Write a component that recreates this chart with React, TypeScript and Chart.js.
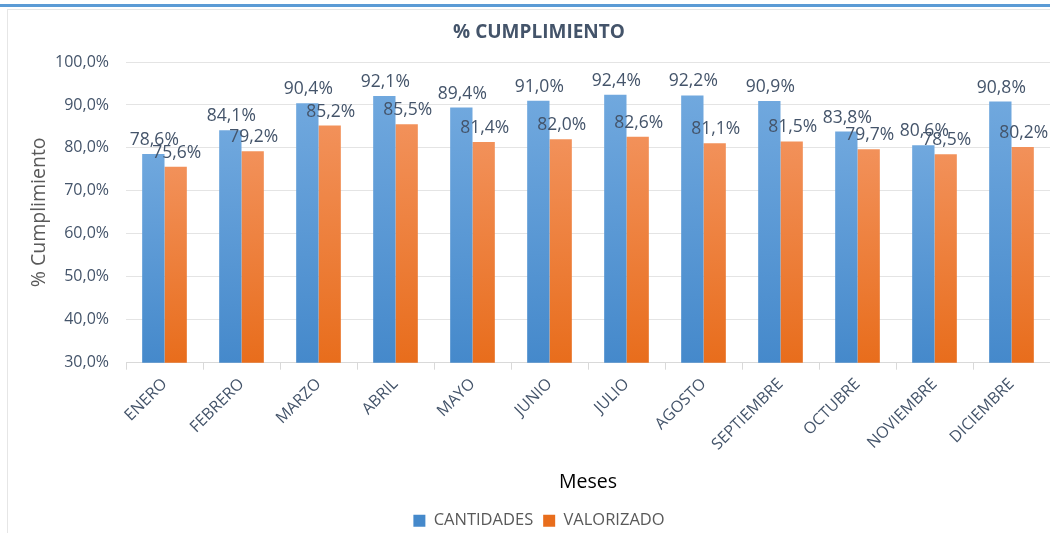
import React, { useEffect, useRef } from "react";
import { Chart, registerables } from "chart.js";

Chart.register(...registerables);

const categories = ["ENERO", "FEBRERO", "MARZO", "ABRIL", "MAYO", "JUNIO", "JULIO", "AGOSTO", "SEPTIEMBRE", "OCTUBRE", "NOVIEMBRE", "DICIEMBRE"];
const cantidades = [78.6, 84.1, 90.4, 92.1, 89.4, 91.0, 92.4, 92.2, 90.9, 83.8, 80.6, 90.8];
const valorizado = [75.6, 79.2, 85.2, 85.5, 81.4, 82.0, 82.6, 81.1, 81.5, 79.7, 78.5, 80.2];
const yMin = 30;
const yMax = 100;
const yStep = 10;

const FONT = "'Open Sans', 'DejaVu Sans', sans-serif";
const fmt = (v: number) => v.toFixed(1).replace(".", ",") + "%";

function barGradient(top: string, bottom: string) {
  return (ctx: any) => {
    const chart = ctx.chart;
    const area = chart.chartArea;
    if (!area || ctx.type !== "data") return bottom;
    const val = ctx.raw as number;
    const yTop = chart.scales.y.getPixelForValue(val);
    const g = chart.ctx.createLinearGradient(0, yTop, 0, area.bottom);
    g.addColorStop(0, top);
    g.addColorStop(1, bottom);
    return g;
  };
}

const labelPlugin = {
  id: "barLabels",
  afterDatasetsDraw(chart: any) {
    const c = chart.ctx;
    c.save();
    c.font = `17.5px ${FONT}`;
    c.fillStyle = "#44546A";
    c.textAlign = "center";
    c.textBaseline = "middle";
    chart.data.datasets.forEach((ds: any, di: number) => {
      const meta = chart.getDatasetMeta(di);
      meta.data.forEach((bar: any, i: number) => {
        c.fillText(fmt(ds.data[i]), bar.x + 1, bar.y - 14);
      });
    });
    c.restore();
  },
};

export default function App() {
  const ref = useRef<HTMLCanvasElement>(null);
  useEffect(() => {
    if (!ref.current) return;
    const chart = new Chart(ref.current, {
      type: "bar",
      data: {
        labels: categories,
        datasets: [
          {
            label: "CANTIDADES",
            data: cantidades,
            backgroundColor: barGradient("#70A8DE", "#4589CB"),
            categoryPercentage: 0.58,
            barPercentage: 1,
          },
          {
            label: "VALORIZADO",
            data: valorizado,
            backgroundColor: barGradient("#F2915A", "#E86D1C"),
            categoryPercentage: 0.58,
            barPercentage: 1,
          },
        ],
      },
      options: {
        animation: false,
        responsive: false,
        maintainAspectRatio: false,
        layout: { padding: { left: 28, right: 0, top: 0, bottom: -6 } },
        plugins: {
          title: {
            display: true,
            text: "% CUMPLIMIENTO",
            color: "#44546A",
            font: { family: FONT, size: 19, weight: "bold" },
            padding: { top: 21, bottom: 18.2 },
          },
          legend: {
            position: "bottom",
            labels: {
              boxWidth: 12,
              boxHeight: 12,
              color: "#595959",
              font: { family: FONT, size: 16.5 },
              padding: 10,
            },
          },
          tooltip: { enabled: false },
        },
        scales: {
          x: {
            afterFit: (s: any) => {
              s.height = 139.8;
            },
            grid: {
              display: true,
              drawOnChartArea: false,
              drawTicks: true,
              tickLength: 7,
              color: "#D9D9D9",
            },
            border: { display: true, color: "#D9D9D9" },
            ticks: {
              color: "#44546A",
              font: { family: FONT, size: 16 },
              minRotation: 45,
              maxRotation: 45,
              padding: 5,
              autoSkip: false,
            },
            title: {
              display: true,
              text: "Meses",
              color: "#000000",
              font: { family: FONT, size: 19.5 },
              padding: { top: 0, bottom: 8 },
            },
          },
          y: {
            min: yMin,
            max: yMax,
            afterFit: (s: any) => {
              s.width = 98;
            },
            grid: { color: "#E4E4E4", drawTicks: false },
            border: { display: false },
            ticks: {
              stepSize: yStep,
              color: "#44546A",
              font: { family: FONT, size: 16 },
              padding: 17,
              callback: (v: any) => fmt(Number(v)),
            },
            title: {
              display: true,
              text: "% Cumplimiento",
              color: "#595959",
              font: { family: FONT, size: 19.5 },
              padding: { top: 0, bottom: 0 },
            },
          },
        },
      },
      plugins: [labelPlugin],
    });
    return () => chart.destroy();
  }, []);

  return (
    <div style={{ position: "fixed", left: 0, top: 0, width: 1050, height: 533, background: "#FFFFFF", overflow: "hidden" }}>
      <div style={{ position: "absolute", left: 0, top: 4, width: 1050, height: 3, background: "#5B9BD5" }} />
      <div style={{ position: "absolute", left: 7, top: 9, width: 1060, height: 540, borderLeft: "1px solid #E6E6E6", borderTop: "1px solid #E6E6E6" }} />
      <canvas ref={ref} width={1050} height={533} style={{ position: "absolute", left: 0, top: 0, width: 1050, height: 533 }} />
    </div>
  );
}
